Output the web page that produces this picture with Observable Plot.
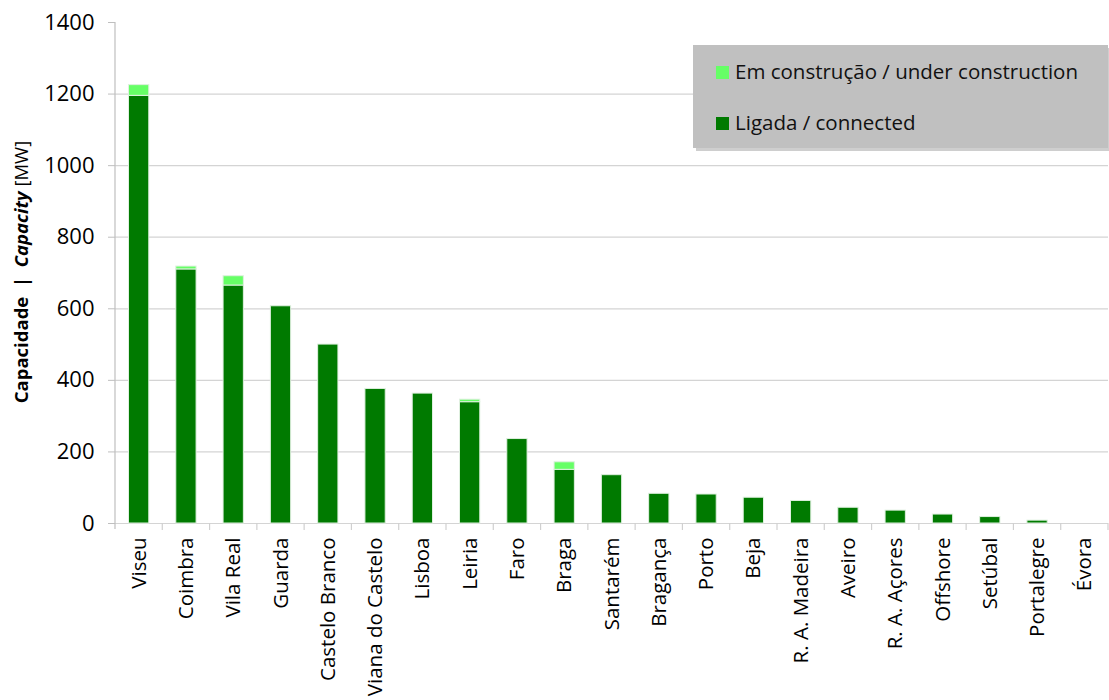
<!DOCTYPE html>
<html>
<head>
<meta charset="utf-8">
<script src="https://cdn.jsdelivr.net/npm/d3@7"></script>
<script src="https://cdn.jsdelivr.net/npm/@observablehq/plot@0.6"></script>
<style>
  html, body { margin: 0; padding: 0; background: #fff; }
  #chart { width: 1109px; height: 700px; }
</style>
</head>
<body>
<div id="chart"></div>
<script>
const categories = ["Viseu", "Coimbra", "Vila Real", "Guarda", "Castelo Branco", "Viana do Castelo", "Lisboa", "Leiria", "Faro", "Braga", "Santarém", "Bragança", "Porto", "Beja", "R. A. Madeira", "Aveiro", "R. A. Açores", "Offshore", "Setúbal", "Portalegre", "Évora"];
const connected = [1195, 710, 665, 607, 500, 376, 363, 339, 236, 150, 135, 83, 81, 72, 63, 44, 36, 25, 18, 8, 0];
const underConstruction = [30, 8, 26, 0, 0, 0, 0, 7, 0, 21, 0, 0, 0, 0, 0, 0, 0, 0, 0, 0, 0];
const seriesNames = ["Ligada / connected", "Em construção / under construction"];
const seriesColors = ["#007a00", "#66ff66"];
const yTicks = [0, 200, 400, 600, 800, 1000, 1200, 1400];
const gridTicks = [0, 200, 400, 600, 800, 1000, 1200];

const data = categories.flatMap((c, i) => [
  {region: c, status: seriesNames[0], value: connected[i]},
  {region: c, status: seriesNames[1], value: underConstruction[i]}
]);

const font = "'Open Sans', 'DejaVu Sans', sans-serif";

const plot = Plot.plot({
  width: 1109,
  height: 700,
  marginLeft: 115,
  marginRight: 1,
  marginTop: 22,
  marginBottom: 177,
  style: {fontFamily: font, fontSize: "20px", color: "#000", background: "#fff", overflow: "visible"},
  x: {domain: categories, padding: 0, round: false, label: null},
  y: {domain: [0, 1400], label: null},
  color: {domain: seriesNames, range: seriesColors},
  marks: [
    Plot.gridY(gridTicks, {stroke: "#d4d4d4", strokeOpacity: 1, strokeWidth: 1.2}),
    Plot.barY(data, {x: "region", y: "value", fill: "status", insetLeft: 13.5, insetRight: 13.5, stroke: "#dff0df", strokeWidth: 1}),
    Plot.axisY(yTicks, {tickSize: 7, tickPadding: 14, stroke: "#bfbfbf", fontSize: 22, tickFormat: d => String(d)}),
    Plot.axisX({tickSize: 0, tickRotate: -90, tickPadding: 14, fontSize: 20.5})
  ]
});

document.getElementById("chart").appendChild(plot);

const svg = d3.select(plot);
const xs = plot.scale("x");
const ys = plot.scale("y");
const step = xs.step || xs.bandwidth;
const y0 = ys.apply(0);
const yTop = ys.apply(1400);
const xLeft = xs.apply(categories[0]);

// left axis line
svg.append("line")
  .attr("x1", xLeft).attr("x2", xLeft)
  .attr("y1", yTop).attr("y2", y0 + 6)
  .attr("stroke", "#bfbfbf").attr("stroke-width", 1.2);

// separator ticks between categories
categories.forEach((c, i) => {
  const xx = xs.apply(c) + step;
  svg.append("line")
    .attr("x1", xx).attr("x2", xx)
    .attr("y1", y0).attr("y2", y0 + 7)
    .attr("stroke", "#d0d0d0").attr("stroke-width", 1.2);
});

// y axis title
const title = svg.append("text")
  .attr("transform", `translate(28,272) rotate(-90)`)
  .attr("text-anchor", "middle")
  .attr("font-family", font)
  .attr("font-size", 18.5)
  .attr("fill", "#000");
title.append("tspan").attr("font-weight", "bold").text("Capacidade  |  ");
title.append("tspan").attr("font-weight", "bold").attr("font-style", "italic").text("Capacity");
title.append("tspan").text(" [MW]");

// legend
const lg = svg.append("g");
lg.append("rect").attr("x", 696).attr("y", 48).attr("width", 415).attr("height", 103).attr("fill", "#9e9e9e").attr("opacity", 0.5);
lg.append("rect").attr("x", 693).attr("y", 45).attr("width", 415).attr("height", 103).attr("fill", "#c0c0c0");
const legendItems = [seriesNames[1], seriesNames[0]];
legendItems.forEach((name, i) => {
  const yy = 66 + i * 51;
  lg.append("rect").attr("x", 716).attr("y", yy).attr("width", 13).attr("height", 13)
    .attr("fill", plot.scale("color").apply(name));
  lg.append("text").attr("x", 735).attr("y", yy + 13)
    .attr("text-anchor", "start")
    .attr("font-family", font).attr("font-size", 20.5).attr("fill", "#111")
    .text(name);
});
</script>
</body>
</html>
